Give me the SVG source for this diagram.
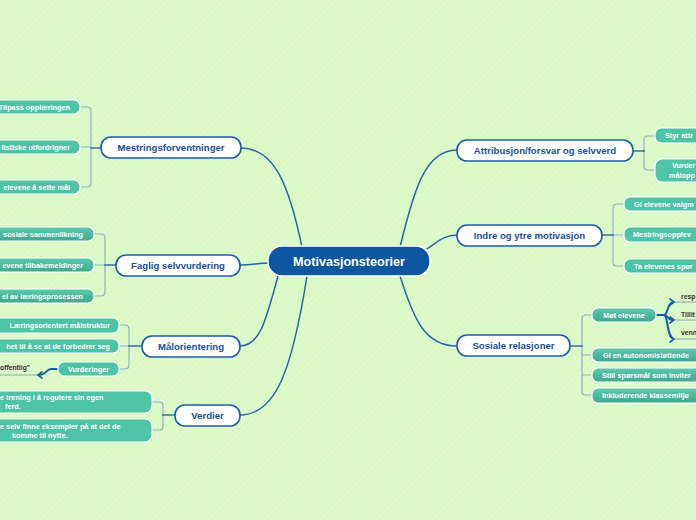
<svg xmlns="http://www.w3.org/2000/svg" width="696" height="520" viewBox="0 0 696 520">
<defs>
<pattern id="bg" width="7" height="7" patternUnits="userSpaceOnUse">
<rect width="7" height="7" fill="#d9f9c5"/>
<path d="M-1,8 L8,-1" stroke="#e2fbd3" stroke-width="1.2"/>
</pattern>
<linearGradient id="lg" x1="0" y1="0" x2="0" y2="1">
<stop offset="0" stop-color="#5ccbb0"/>
<stop offset="1" stop-color="#3fa78e"/>
</linearGradient>
<marker id="chev" viewBox="0 0 6 8" refX="5" refY="4" markerWidth="6" markerHeight="8" markerUnits="userSpaceOnUse" orient="auto">
<path d="M0.5,0.5 L5,4 L0.5,7.5" fill="none" stroke="#1c5aa6" stroke-width="1.6"/>
</marker>
</defs>
<style>
.main rect{fill:#fff;stroke:#1d5ca8;stroke-width:1.6}
.main text{font-family:"Liberation Sans",Arial,sans-serif;font-weight:bold;font-size:9.6px;fill:#1b4f98;text-anchor:middle}
.leaf rect{fill:#4ec3a6;stroke:#fff;stroke-width:1.2}
.leaf.g rect{fill:url(#lg)}
.leaf text{font-family:"Liberation Sans",Arial,sans-serif;font-weight:bold;font-size:7.3px;fill:#fff}
.sub text{font-family:"Liberation Sans",Arial,sans-serif;font-weight:bold;font-size:6.8px;fill:#333}
.mc{fill:none;stroke:#2a65a8;stroke-width:1.5}
.br{fill:none;stroke:#8db1c2;stroke-width:1.2}
.st{fill:none;stroke:#2a65a8;stroke-width:1.4}
.ar{fill:none;stroke:#1c5aa6;stroke-width:2;marker-end:url(#chev)}
.ul{fill:none;stroke:#8aa6b4;stroke-width:1}
</style>
<rect width="696" height="520" fill="url(#bg)"/>

<g id="connectors">
<path class="mc" d="M302 247 C290 190 276 148 241 148"/>
<path class="mc" d="M269 263 C258 263 252 265 240 265"/>
<path class="mc" d="M278 276 C266 320 260 346 240 346"/>
<path class="mc" d="M307 276 C292 370 276 415 240 415"/>
<path class="mc" d="M400 247 C414 190 425 150 457 150"/>
<path class="mc" d="M427 249 C440 240 445 235 457 235"/>
<path class="mc" d="M400 276 C414 320 425 346 457 346"/>

<path class="br" d="M80 107 H87 Q91 107 91 111 V183 Q91 187 87 187 H80 M80 147 H91"/>
<path class="st" d="M90 148 H101"/>
<path class="br" d="M94 234 H101 Q105 234 105 238 V292 Q105 296 101 296 H94 M94 265 H105"/>
<path class="st" d="M104 265 H116"/>
<path class="br" d="M119 325 H125 Q129 325 129 329 V365 Q129 369 125 369 H119 M119 346 H129"/>
<path class="st" d="M128 346 H142"/>
<path class="br" d="M152 402 H159 Q163 402 163 406 V426 Q163 430 159 430 H152"/>
<path class="st" d="M162 415 H175"/>
<path class="br" d="M655 136 H648 Q644 136 644 140 V166 Q644 170 648 170 H655"/>
<path class="st" d="M633 151 H645"/>
<path class="br" d="M624 204 H617 Q613 204 613 208 V262 Q613 266 617 266 H624 M613 235 H624"/>
<path class="st" d="M602 235 H614"/>
<path class="br" d="M592 315 H586 Q582 315 582 319 V391 Q582 395 586 395 H592 M582 355 H592 M582 375 H592"/>
<path class="st" d="M570 346 H583"/>

<path class="ul" d="M0 375 H38"/>
<path class="ar" d="M58 369 H51 C46 369 47 375 38 375"/>
<path class="ul" d="M674 302 H696 M674 320 H696 M674 339 H696"/>
<path class="ar" d="M656 315 H664 C668 315 667 302 674 302"/>
<path class="ar" d="M656 315 H664 C668 315 667 320 674 320"/>
<path class="ar" d="M656 315 H664 C668 315 667 339 674 339"/>
</g>

<g id="center">
<rect x="268" y="246" width="162" height="30" rx="14" fill="#0d56a0" stroke="#fff" stroke-width="1.5"/>
<text x="349" y="265.5" font-family="Liberation Sans, Arial, sans-serif" font-weight="bold" font-size="12.6" fill="#fff" text-anchor="middle">Motivasjonsteorier</text>
</g>

<g id="n-mestring" class="main"><rect x="101" y="137" width="140" height="21" rx="10"/><text x="171" y="151">Mestringsforventninger</text></g>
<g id="n-faglig" class="main"><rect x="116" y="255" width="124" height="21" rx="10"/><text x="178" y="269">Faglig selvvurdering</text></g>
<g id="n-mal" class="main"><rect x="142" y="336" width="98" height="21" rx="10"/><text x="191" y="350">Målorientering</text></g>
<g id="n-verdier" class="main"><rect x="175" y="405" width="65" height="21" rx="10"/><text x="207.5" y="419">Verdier</text></g>
<g id="n-attr" class="main"><rect x="457" y="140" width="176" height="21" rx="10"/><text x="545" y="154">Attribusjon/forsvar og selvverd</text></g>
<g id="n-indre" class="main"><rect x="457" y="225" width="145" height="21" rx="10"/><text x="529.5" y="239">Indre og ytre motivasjon</text></g>
<g id="n-sosiale" class="main"><rect x="457" y="335" width="113" height="21" rx="10"/><text x="513.5" y="349">Sosiale relasjoner</text></g>

<g id="l-m1" class="leaf"><rect x="-30" y="100" width="110" height="14" rx="6"/><text x="70" y="109.5" text-anchor="end">Tilpass opplæringen</text></g>
<g id="l-m2" class="leaf"><rect x="-30" y="140" width="110" height="14" rx="6"/><text x="70" y="149.5" text-anchor="end">listiske utfordrigner</text></g>
<g id="l-m3" class="leaf"><rect x="-30" y="180" width="110" height="14" rx="6"/><text x="70" y="189.5" text-anchor="end">elevene å sette mål</text></g>

<g id="l-f1" class="leaf g"><rect x="-30" y="227" width="124" height="14" rx="6"/><text x="83" y="236.5" text-anchor="end">sosiale sammenlikning</text></g>
<g id="l-f2" class="leaf g"><rect x="-30" y="258" width="124" height="14" rx="6"/><text x="83" y="267.5" text-anchor="end">evene tilbakemeldinger</text></g>
<g id="l-f3" class="leaf g"><rect x="-30" y="289" width="124" height="14" rx="6"/><text x="83" y="298.5" text-anchor="end">el av læringsprosessen</text></g>

<g id="l-o1" class="leaf"><rect x="-30" y="318" width="149" height="15" rx="6"/><text x="110" y="328" text-anchor="end">Læringsorientert målstruktur</text></g>
<g id="l-o2" class="leaf"><rect x="-30" y="339" width="149" height="14" rx="6"/><text x="110" y="348.5" text-anchor="end">het til å se at de forbedrer seg</text></g>
<g id="l-o3" class="leaf"><rect x="58" y="362" width="61" height="14" rx="6"/><text x="88.5" y="371.5" text-anchor="middle">Vurderinger</text></g>
<g id="s-off" class="sub"><text x="0" y="370">offentlig"</text></g>

<g id="l-v1" class="leaf"><rect x="-30" y="391" width="182" height="22" rx="7"/><text x="0" y="400">e trening i å regulere sin egen</text><text x="5" y="409">ferd.</text></g>
<g id="l-v2" class="leaf"><rect x="-30" y="419" width="182" height="23" rx="7"/><text x="0" y="429">e selv finne eksempler på at det de</text><text x="12" y="438">komme til nytte.</text></g>

<g id="l-a1" class="leaf"><rect x="655" y="128" width="60" height="15" rx="6"/><text x="665" y="138">Styr attr</text></g>
<g id="l-a2" class="leaf"><rect x="655" y="159" width="60" height="23" rx="7"/><text x="672" y="168">Vurder</text><text x="669" y="178">målopp</text></g>

<g id="l-i1" class="leaf"><rect x="624" y="197" width="90" height="14" rx="6"/><text x="634" y="206.5">Gi elevene valgm</text></g>
<g id="l-i2" class="leaf"><rect x="624" y="227" width="90" height="15" rx="6"/><text x="633" y="237">Mestringsopplev</text></g>
<g id="l-i3" class="leaf"><rect x="624" y="259" width="90" height="14" rx="6"/><text x="634" y="268.5">Ta elevenes spør</text></g>

<g id="l-s1" class="leaf g"><rect x="592" y="308" width="64" height="14" rx="6"/><text x="624" y="317.5" text-anchor="middle">Møt elevene</text></g>
<g id="s-resp" class="sub"><text x="681" y="299">resp</text></g>
<g id="s-tillit" class="sub"><text x="681" y="317">Tillit</text></g>
<g id="s-venn" class="sub"><text x="681" y="335">venn</text></g>
<g id="l-s2" class="leaf g"><rect x="592" y="348" width="120" height="14" rx="6"/><text x="603" y="357.5">Gi en autonomistøttende</text></g>
<g id="l-s3" class="leaf g"><rect x="592" y="368" width="120" height="14" rx="6"/><text x="602" y="377.5">Still spørsmål som inviter</text></g>
<g id="l-s4" class="leaf g"><rect x="592" y="388" width="120" height="15" rx="6"/><text x="602" y="398">Inkluderende klassemiljø</text></g>
</svg>
